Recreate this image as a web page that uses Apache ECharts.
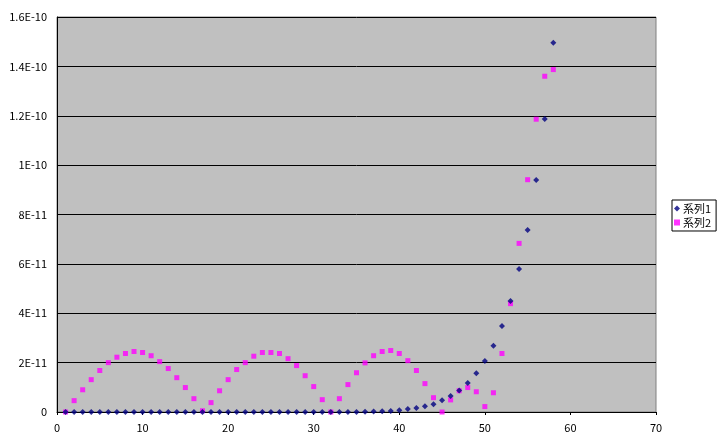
<!DOCTYPE html>
<html>
<head>
<meta charset="utf-8">
<script src="https://cdn.jsdelivr.net/npm/echarts@6/dist/echarts.min.js"></script>
<style>
html,body{margin:0;padding:0;background:#fff;}
#c{width:719px;height:445px;}
</style>
</head>
<body>
<div id="c"></div>
<script>
var xValues = [1,2,3,4,5,6,7,8,9,10,11,12,13,14,15,16,17,18,19,20,21,22,23,24,25,26,27,28,29,30,31,32,33,34,35,36,37,38,39,40,41,42,43,44,45,46,47,48,49,50,51,52,53,54,55,56,57,58];
var series1Name = '系列1';
var series2Name = '系列2';
var series1 = [0,0,0,0,0,0,0,0,0,0,0,0,0,0,0,0,0,0,0,0,0,0,0,0,0,0,0,0,0,0,0,0,0,0,0,
  0.01e-11,0.02e-11,0.03e-11,0.04e-11,0.07e-11,0.12e-11,0.16e-11,0.23e-11,0.31e-11,0.48e-11,
  0.65e-11,0.87e-11,1.17e-11,1.57e-11,2.07e-11,2.68e-11,3.48e-11,4.5e-11,5.79e-11,7.37e-11,
  9.4e-11,11.87e-11,14.96e-11];
var series2 = [0,0.46e-11,0.9e-11,1.31e-11,1.68e-11,2.0e-11,2.22e-11,2.37e-11,2.45e-11,2.41e-11,
  2.28e-11,2.04e-11,1.76e-11,1.39e-11,0.99e-11,0.54e-11,0.05e-11,0.38e-11,0.86e-11,1.31e-11,
  1.72e-11,2.0e-11,2.26e-11,2.41e-11,2.41e-11,2.37e-11,2.16e-11,1.88e-11,1.47e-11,1.03e-11,
  0.5e-11,0,0.54e-11,1.11e-11,1.59e-11,1.99e-11,2.28e-11,2.45e-11,2.49e-11,2.37e-11,
  2.08e-11,1.68e-11,1.15e-11,0.58e-11,0,0.49e-11,0.86e-11,0.99e-11,0.82e-11,0.22e-11,
  0.78e-11,2.37e-11,4.39e-11,6.83e-11,9.41e-11,11.86e-11,13.6e-11,13.87e-11];
var yTickLabels = ['0','2E-11','4E-11','6E-11','8E-11','1E-10','1.2E-10','1.4E-10','1.6E-10'];
var yMax = 1.6e-10, yStep = 2e-11;
var xMin = 0, xMax = 70, xStep = 10;

function pairs(xs, ys){ var out=[]; for(var i=0;i<ys.length;i++){ out.push([xs[i], ys[i]]); } return out; }

var font = '"Noto Sans CJK JP", "DejaVu Sans", sans-serif';
var chart = echarts.init(document.getElementById('c'), null, {renderer:'canvas'});
chart.setOption({
  animation: false,
  backgroundColor: '#ffffff',
  grid: {left:57, top:17, right:63, bottom:33, show:true, backgroundColor:'#C0C0C0', borderColor:'#808080', borderWidth:1},
  xAxis: {
    type:'value', min:xMin, max:xMax, interval:xStep,
    axisLine:{show:true, lineStyle:{color:'#000', width:1}},
    axisTick:{show:true, inside:false, length:3, lineStyle:{color:'#000'}},
    splitLine:{show:false},
    axisLabel:{color:'#000', fontSize:11, fontFamily:font, margin:10}
  },
  yAxis: {
    type:'value', min:0, max:yMax, interval:yStep,
    axisLine:{show:true, lineStyle:{color:'#000', width:1}},
    axisTick:{show:false},
    splitLine:{show:true, lineStyle:{color:'#000', width:1}},
    axisLabel:{color:'#000', fontSize:11, fontFamily:font, margin:10,
      formatter:function(v){ return yTickLabels[Math.round(v / yStep)]; }}
  },
  legend: {
    orient:'vertical', left:672, top:200, 
    backgroundColor:'#fff', borderColor:'#000', borderWidth:1,
    padding:[3,5,3,2], itemGap:3, itemWidth:6, itemHeight:6,
    textStyle:{color:'#000', fontSize:11, fontFamily:font, padding:[0,0,0,-2]},
    data:[{name:series1Name, icon:'diamond'},{name:series2Name, icon:'rect'}]
  },
  series: [
    {name:series1Name, type:'scatter', symbol:'diamond', symbolSize:6, itemStyle:{color:'#000080'}, data:pairs(xValues, series1), z:3},
    {name:series2Name, type:'scatter', symbol:'rect', symbolSize:5, itemStyle:{color:'#FF00FF'}, data:pairs(xValues, series2), z:2}
  ]
});
</script>
</body>
</html>
